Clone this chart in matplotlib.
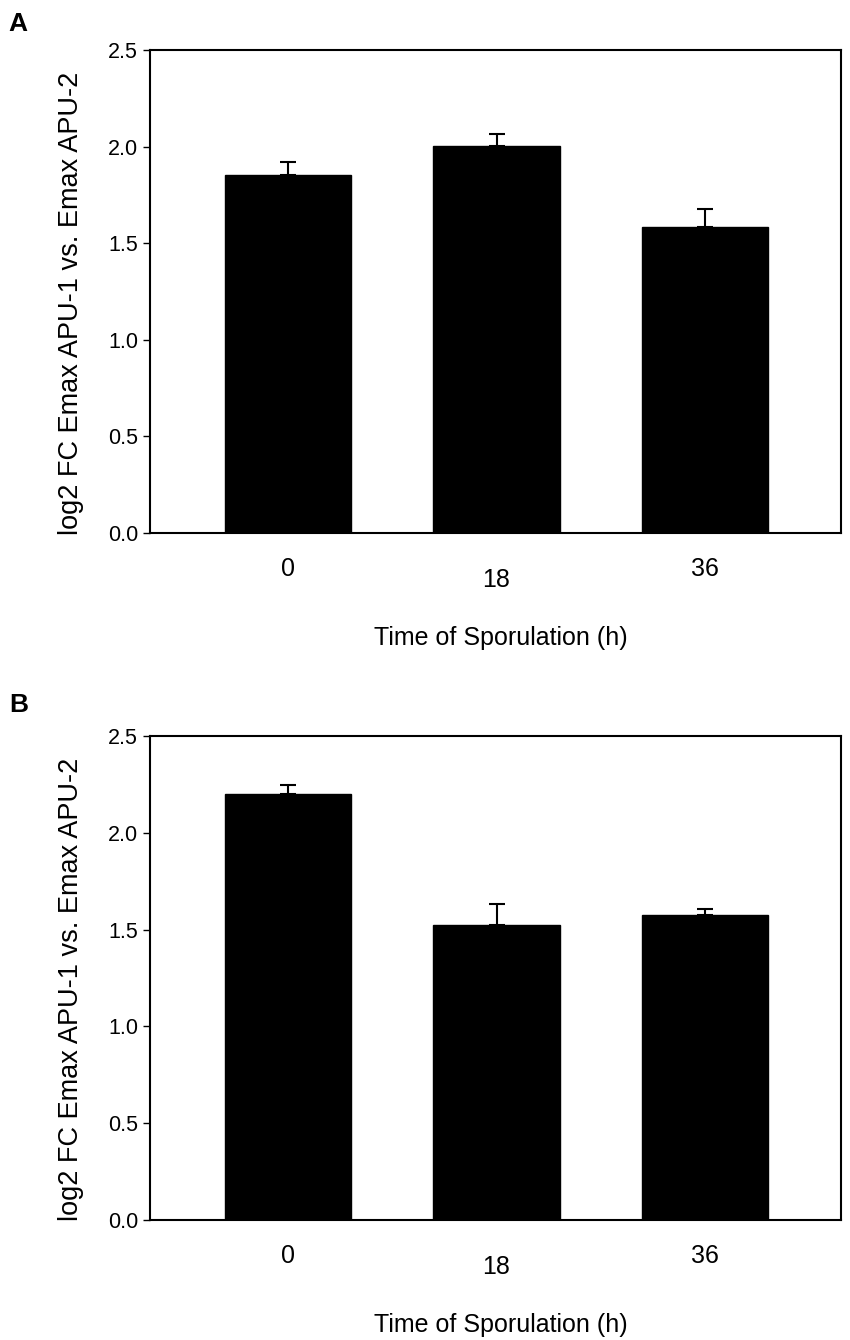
#!/usr/bin/env python3
"""Two-panel bar chart: log2 FC Emax APU-1 vs. Emax APU-2 over sporulation time."""
import matplotlib
matplotlib.use('Agg')
import matplotlib.pyplot as plt
import matplotlib.transforms as mtransforms
from matplotlib.ticker import FormatStrFormatter

plt.rcParams['font.family'] = ['Liberation Sans', 'DejaVu Sans']

# ---------------------------------------------------------------------------
# Data
# ---------------------------------------------------------------------------
time_labels = ['0', '18', '36']
values_a = [1.852, 2.003, 1.582]
errors_a = [0.067, 0.064, 0.097]
values_b = [2.200, 1.521, 1.574]
errors_b = [0.047, 0.112, 0.034]

YLABEL = 'log2 FC Emax APU-1 vs. Emax APU-2'
XLABEL = 'Time of Sporulation (h)'

# ---------------------------------------------------------------------------
# Canvas
# ---------------------------------------------------------------------------
fig = plt.figure(figsize=(8.5, 13.4), dpi=100)
fig.patch.set_facecolor('white')

ax_a = fig.add_axes([0.1765, 0.6022, 0.8129, 0.3604])
ax_b = fig.add_axes([0.1765, 0.0896, 0.8129, 0.3612])


def draw_panel(ax, values, errors):
    x = list(range(len(values)))
    ax.bar(x, values, width=0.605, color='black', edgecolor='black', zorder=2)
    ax.errorbar(x, values, yerr=[[0] * len(errors), errors], fmt='none',
                ecolor='black', elinewidth=1.5, capsize=5.5, capthick=1.5, zorder=3)

    ax.set_xlim(-0.66, 2.65)
    ax.set_ylim(0, 2.5)
    ax.set_yticks([0.0, 0.5, 1.0, 1.5, 2.0, 2.5])
    ax.yaxis.set_major_formatter(FormatStrFormatter('%.1f'))
    ax.tick_params(axis='y', direction='out', length=5.2, width=1.0,
                   pad=3.5, labelsize=15.5, colors='black')

    ax.set_xticks(x)
    ax.set_xticklabels(time_labels)
    ax.tick_params(axis='x', length=0, pad=17, labelsize=18, colors='black')
    # middle label sits a little lower, as in the original
    shift = mtransforms.ScaledTranslation(0, -11 / 100, fig.dpi_scale_trans)
    lab = ax.get_xticklabels()[1]
    lab.set_transform(lab.get_transform() + shift)

    for sp in ax.spines.values():
        sp.set_linewidth(1.5)
        sp.set_color('black')

    ax.set_ylabel(YLABEL, fontsize=19.5)
    ax.yaxis.set_label_coords(-0.0955, 0.476)
    ax.set_xlabel(XLABEL, fontsize=18)
    ax.xaxis.set_label_coords(0.508, -0.193)


draw_panel(ax_a, values_a, errors_a)
draw_panel(ax_b, values_b, errors_b)

# panel letters
fig.text(8 / 850, 1 - 24 / 1340, 'A', fontsize=19, fontweight='bold', ha='left', va='center')
fig.text(9 / 850, 1 - 705 / 1340, 'B', fontsize=19, fontweight='bold', ha='left', va='center')

fig.savefig('out.png', dpi=100, facecolor='white')
